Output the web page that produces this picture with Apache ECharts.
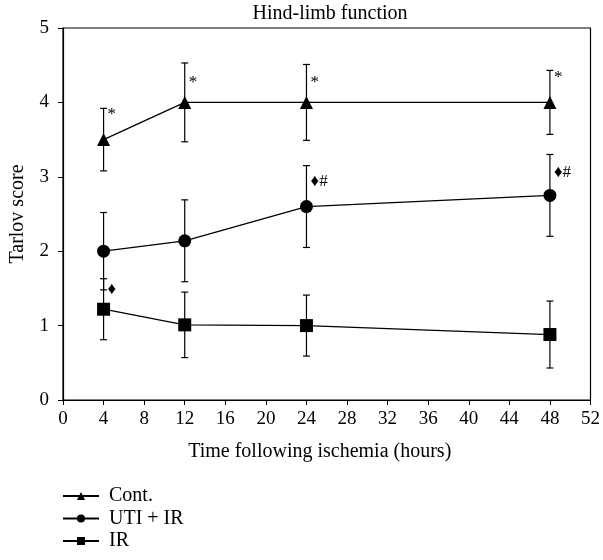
<!DOCTYPE html>
<html>
<head>
<meta charset="utf-8">
<script src="https://cdn.jsdelivr.net/npm/echarts@6/dist/echarts.min.js"></script>
<style>
  html, body { margin: 0; padding: 0; background: #fff; }
  #main { width: 603px; height: 560px; }
</style>
</head>
<body>
<div id="main"></div>
<script>
// hours after ischemia
const hours = [4, 12, 24, 48]

// mean Tarlov score per group
const contMean = [3.5, 4.0, 4.0, 4.0]
const utiMean = [2.0, 2.14, 2.6, 2.75]
const irMean = [1.22, 1.01, 1.0, 0.88]

// error (+/-)
const contErr = [0.42, 0.53, 0.51, 0.43]
const utiErr = [0.52, 0.55, 0.55, 0.55]
const irErr = [0.41, 0.44, 0.41, 0.45]

// significance marks: [hour, score, text]
const marks = [
  [4, 3.84, '*'],
  [12, 4.27, '*'],
  [24, 4.27, '*'],
  [48, 4.33, '*'],
  [24, 2.93, '\u2666#'],
  [48, 3.06, '\u2666#'],
  [4, 1.49, '\u2666']
]

const font = 'Liberation Serif'

function pairs (means) {
  return hours.map((h, i) => [h, means[i]])
}

function errData (means, errs) {
  return hours.map((h, i) => [h, means[i] - errs[i], means[i] + errs[i]])
}

function errorBars (data) {
  return {
    type: 'custom',
    silent: true,
    z: 1,
    data: data,
    renderItem: function (params, api) {
      const lo = api.coord([api.value(0), api.value(1)])
      const hi = api.coord([api.value(0), api.value(2)])
      const w = 3.5
      const style = { stroke: '#000', lineWidth: 1.2 }
      return {
        type: 'group',
        children: [
          { type: 'line', shape: { x1: lo[0], y1: lo[1], x2: hi[0], y2: hi[1] }, style: style },
          { type: 'line', shape: { x1: lo[0] - w, y1: lo[1], x2: lo[0] + w, y2: lo[1] }, style: style },
          { type: 'line', shape: { x1: hi[0] - w, y1: hi[1], x2: hi[0] + w, y2: hi[1] }, style: style }
        ]
      }
    }
  }
}

function lineSeries (name, means, symbol, size) {
  return {
    name: name,
    type: 'line',
    data: pairs(means),
    symbol: symbol,
    symbolSize: size,
    z: 3,
    lineStyle: { color: '#000', width: 1.3 },
    itemStyle: { color: '#000', borderWidth: 0 },
    emphasis: { disabled: true }
  }
}

const chart = echarts.init(document.getElementById('main'), null, { renderer: 'canvas' })

const option = {
  animation: false,
  textStyle: { fontFamily: font, color: '#000' },
  title: {
    text: 'Hind-limb function',
    left: 330,
    textAlign: 'center',
    top: 4,
    padding: 0,
    textStyle: { fontFamily: font, fontSize: 20, fontWeight: 'normal', color: '#000' }
  },
  grid: {
    left: 62,
    right: 12,
    top: 28,
    bottom: 160,
    show: true,
    borderColor: '#000',
    borderWidth: 1.2
  },
  legend: {
    orient: 'vertical',
    left: 62,
    top: 486,
    padding: 0,
    itemWidth: 36,
    itemHeight: 10,
    itemGap: 2.5,
    data: ['Cont.', 'UTI + IR', 'IR'],
    textStyle: { fontFamily: font, fontSize: 20, lineHeight: 20, color: '#000', padding: [0, 0, 0, 5] }
  },
  xAxis: {
    type: 'value',
    min: 0,
    max: 52,
    interval: 4,
    name: 'Time following ischemia (hours)',
    nameLocation: 'middle',
    nameGap: 42,
    nameTextStyle: { fontFamily: font, fontSize: 20, color: '#000', padding: [0, 14, 0, 0] },
    axisLine: { lineStyle: { color: '#000', width: 1.2 } },
    axisTick: { length: 5, lineStyle: { color: '#000' } },
    axisLabel: { fontFamily: font, fontSize: 19, color: '#000', margin: 10 },
    splitLine: { show: false }
  },
  yAxis: {
    type: 'value',
    min: 0,
    max: 5,
    interval: 1,
    name: 'Tarlov score',
    nameLocation: 'middle',
    nameGap: 35,
    nameTextStyle: { fontFamily: font, fontSize: 20, color: '#000' },
    axisLine: { show: true, lineStyle: { color: '#000', width: 1.2 } },
    axisTick: { show: true, length: 5, lineStyle: { color: '#000' } },
    axisLabel: { fontFamily: font, fontSize: 19, color: '#000', margin: 14 },
    splitLine: { show: false }
  },
  series: [
    errorBars(errData(contMean, contErr)),
    errorBars(errData(utiMean, utiErr)),
    errorBars(errData(irMean, irErr)),
    lineSeries('Cont.', contMean, 'triangle', 13),
    lineSeries('UTI + IR', utiMean, 'circle', 13),
    lineSeries('IR', irMean, 'rect', 13),
    {
      type: 'custom',
      silent: true,
      z: 4,
      data: marks,
      renderItem: function (params, api) {
        const p = api.coord([api.value(0), api.value(1)])
        return {
          type: 'text',
          x: p[0] + 4,
          y: p[1],
          style: {
            text: marks[params.dataIndex][2],
            font: '17px "Liberation Serif"',
            fill: '#000',
            verticalAlign: 'middle',
            align: 'left'
          }
        }
      }
    }
  ]
}

chart.setOption(option)
</script>
</body>
</html>
